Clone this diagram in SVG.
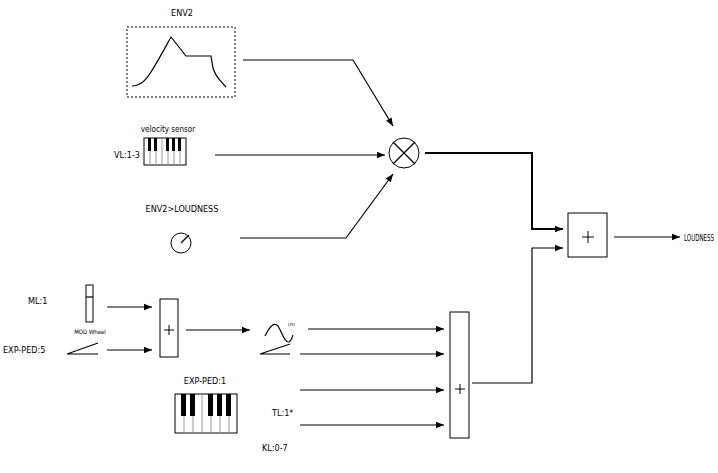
<svg xmlns="http://www.w3.org/2000/svg" width="718" height="473" viewBox="0 0 718 473">
<defs><marker id="a" viewBox="0 0 10 10" refX="10" refY="5" markerWidth="10" markerHeight="8" markerUnits="userSpaceOnUse" orient="auto"><path d="M0,1 L10,5 L0,9 z" fill="#000"/></marker></defs>
<style>text{font-family:"DejaVu Sans Condensed","Liberation Sans Narrow","Liberation Sans",sans-serif;font-size:9px;fill:#000}.l{fill:none;stroke:#000;stroke-width:1.2}.b{fill:#fff;stroke:#000;stroke-width:1}.p{fill:none;stroke:#000;stroke-width:1}</style>
<rect width="718" height="473" fill="#fff"/>
<g id="env2"><text x="182" y="16" text-anchor="middle">ENV2</text><rect x="127" y="27" width="108" height="70" fill="none" stroke="#000" stroke-dasharray="2,2"/><path class="l" d="M132,86 C145,86 150,75 171,37 L186,56 L211,56 L213,68 C216,78 220,80 226,87"/></g>
<g id="vel"><text x="168" y="132" text-anchor="middle" style="font-size:8px">velocity sensor</text><text x="140" y="158" text-anchor="end">VL:1-3</text><rect class="b" x="144" y="138" width="42" height="27"/><g stroke="#999"><line x1="150" y1="150" x2="150" y2="165"/><line x1="156" y1="150" x2="156" y2="165"/><line x1="162" y1="138" x2="162" y2="165"/><line x1="168" y1="150" x2="168" y2="165"/><line x1="174" y1="150" x2="174" y2="165"/><line x1="180" y1="150" x2="180" y2="165"/></g><g fill="#000"><rect x="148" y="138" width="3" height="13"/><rect x="154" y="138" width="3" height="13"/><rect x="166" y="138" width="3" height="13"/><rect x="172" y="138" width="3" height="13"/><rect x="178" y="138" width="3" height="13"/></g></g>
<g id="knob"><text x="182" y="212" text-anchor="middle">ENV2&gt;LOUDNESS</text><circle class="b" cx="181" cy="243" r="10"/><line class="l" x1="181" y1="243" x2="189" y2="235"/></g>
<g id="mult"><circle class="b" cx="404" cy="153" r="15"/><line class="l" x1="393" y1="142" x2="415" y2="164"/><line class="l" x1="415" y1="142" x2="393" y2="164"/></g>
<g id="sum"><rect class="b" x="568" y="213" width="39" height="44"/><path class="p" d="M582,237 H594 M588,231 V243"/></g>
<g id="out"><text x="684" y="241" textLength="30" lengthAdjust="spacingAndGlyphs" style="font-size:8.5px">LOUDNESS</text></g>
<g id="ml"><text x="28" y="304">ML:1</text><rect class="b" x="86" y="285" width="7" height="37"/><line class="l" x1="86" y1="297" x2="93" y2="297"/><text x="90" y="334" text-anchor="middle" style="font-size:6px">MOD Wheel</text></g>
<g id="exp5"><text x="3" y="353">EXP-PED:5</text><path class="l" d="M98,343 L67,354 L98,354"/></g>
<g id="sum2"><rect class="b" x="160" y="299" width="18" height="58"/><path class="p" d="M164,330 H174 M169,325 V335"/></g>
<g id="lfo"><path class="l" d="M265,336 C270,326 274,322 278,326 C282,332 284,342 288,342 C291,342 292,338 293,335"/><text x="288" y="326" style="font-size:4px">LFO</text></g>
<g id="exp1"><text x="205" y="384" text-anchor="middle">EXP-PED:1</text><path class="l" d="M290,344 L260,354 L290,354"/></g>
<g id="kbd"><rect class="b" x="175" y="394" width="62" height="39"/><g stroke="#999"><line x1="184" y1="414" x2="184" y2="433"/><line x1="193" y1="414" x2="193" y2="433"/><line x1="202" y1="394" x2="202" y2="433"/><line x1="211" y1="414" x2="211" y2="433"/><line x1="220" y1="414" x2="220" y2="433"/><line x1="229" y1="414" x2="229" y2="433"/></g><g fill="#000"><rect x="181" y="394" width="5" height="22"/><rect x="190" y="394" width="5" height="22"/><rect x="208" y="394" width="5" height="22"/><rect x="217" y="394" width="5" height="22"/><rect x="226" y="394" width="5" height="22"/></g></g>
<g id="tl"><text x="272" y="416">TL:1*</text></g>
<g id="kl"><text x="262" y="451">KL:0-7</text></g>
<g id="sum3"><rect class="b" x="450" y="312" width="19" height="126"/><path class="p" d="M455,389 H465 M460,384 V394"/></g>
<g id="connectors">
<path class="l" d="M243,60 L353,60 L393,126" marker-end="url(#a)"/>
<path class="l" d="M215,155 L385,155" marker-end="url(#a)"/>
<path class="l" d="M240,238 L346,238 L393,174" marker-end="url(#a)"/>
<path d="M425,153 L532,153 L532,229 L563,229" fill="none" stroke="#000" stroke-width="2" marker-end="url(#a)"/>
<path class="l" d="M472,383 L532,383 L532,248 L563,248" marker-end="url(#a)"/>
<path class="l" d="M614,237 L680,237" marker-end="url(#a)"/>
<path class="l" d="M107,307 L152,307" marker-end="url(#a)"/>
<path class="l" d="M107,350 L152,350" marker-end="url(#a)"/>
<path class="l" d="M186,330 L250,330" marker-end="url(#a)"/>
<path class="l" d="M308,329 L444,329" marker-end="url(#a)"/>
<path class="l" d="M300,354 L444,354" marker-end="url(#a)"/>
<path class="l" d="M300,390 L444,390" marker-end="url(#a)"/>
<path class="l" d="M300,425 L444,425" marker-end="url(#a)"/>
</g>
</svg>
